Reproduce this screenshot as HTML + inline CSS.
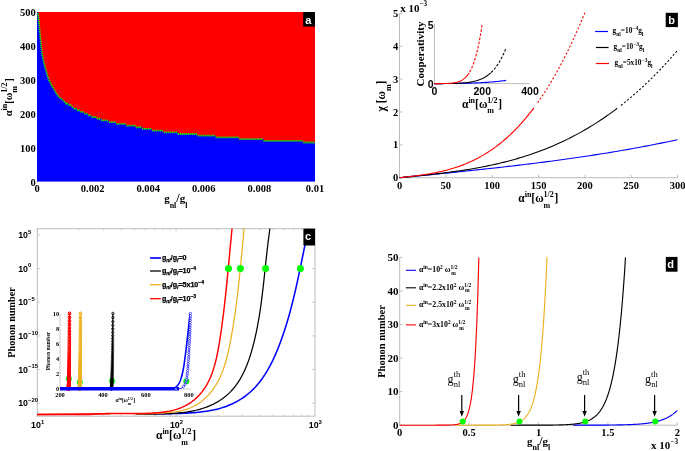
<!DOCTYPE html>
<html><head><meta charset="utf-8"><title>figure</title>
<style>html,body{margin:0;padding:0;background:#fff}svg{display:block}</style></head>
<body>
<svg width="685" height="451" viewBox="0 0 685 451">
<rect width="685" height="451" fill="#fff"/>
<rect x="37" y="12" width="278" height="169.6" fill="#0000ff"/>
<path d="M315 12 L37.9 12 L37.9 12.2 L37.94 12.65 L37.99 13.23 L38 13.34 L39 24.06 L40 34.02 L41 44.19 L42 52.7 L43 58.53 L44 63.14 L45 67.02 L46 70.61 L47 74.11 L48 77.28 L49 79.95 L50 82.24 L51 84.27 L52 86.13 L53 87.9 L54 89.6 L55 91.26 L56 92.84 L57 94.33 L58 95.7 L59 96.86 L60 97.76 L61 98.46 L62 98.46 L62 100.19 L64 100.19 L64 101.89 L66 101.89 L66 103.58 L69 103.58 L69 105.28 L71 105.28 L71 106.98 L74 106.98 L74 108.67 L77 108.67 L77 110.37 L80 110.37 L80 112.06 L84 112.06 L84 113.76 L88 113.76 L88 115.46 L92 115.46 L92 117.15 L96 117.15 L96 118.85 L102 118.85 L102 120.54 L109 120.54 L109 122.24 L116 122.24 L116 123.94 L126 123.94 L126 125.63 L135 125.63 L135 127.33 L143 127.33 L143 129.02 L152 129.02 L152 130.72 L163 130.72 L163 132.42 L178 132.42 L178 134.11 L197 134.11 L197 135.81 L216 135.81 L216 137.5 L239 137.5 L239 139.2 L264 139.2 L264 140.9 L303 140.9 L303 142.59 L315 142.59Z" fill="#ff0000"/>
<path d="M37.16 12.89h1.7v1.25h-1.7zM37.34 14.89h1.7v1.25h-1.7zM37.52 16.88h1.7v1.25h-1.7zM37.7 18.87h1.7v1.25h-1.7zM37.89 20.86h1.7v1.25h-1.7zM38.09 22.85h1.7v1.25h-1.7zM38.29 24.84h1.7v1.25h-1.7zM38.49 26.83h1.7v1.25h-1.7zM38.69 28.82h1.7v1.25h-1.7zM38.89 30.81h1.7v1.25h-1.7zM39.09 32.8h1.7v1.25h-1.7zM39.29 34.79h1.7v1.25h-1.7zM39.49 36.78h1.7v1.25h-1.7zM39.69 38.77h1.7v1.25h-1.7zM39.88 40.76h1.7v1.25h-1.7zM40.07 42.75h1.7v1.25h-1.7zM40.26 44.74h1.7v1.25h-1.7zM40.46 46.73h1.7v1.25h-1.7zM40.69 48.72h1.7v1.25h-1.7zM40.95 50.7h1.7v1.25h-1.7zM41.24 52.68h1.7v1.25h-1.7zM41.56 54.66h1.7v1.25h-1.7zM41.9 56.63h1.7v1.25h-1.7zM42.28 58.59h1.7v1.25h-1.7zM42.69 60.55h1.7v1.25h-1.7zM43.14 62.5h1.7v1.25h-1.7zM43.62 64.44h1.7v1.25h-1.7zM44.14 66.37h1.7v1.25h-1.7zM44.67 68.3h1.7v1.25h-1.7zM45.21 70.22h1.7v1.25h-1.7zM45.75 72.15h1.7v1.25h-1.7zM46.32 74.07h1.7v1.25h-1.7zM46.91 75.98h1.7v1.25h-1.7zM47.57 77.87h1.7v1.25h-1.7zM48.31 79.73h1.7v1.25h-1.7zM49.11 81.56h1.7v1.25h-1.7zM49.99 83.35h1.7v1.25h-1.7zM50.92 85.12h1.7v1.25h-1.7zM51.9 86.87h1.7v1.25h-1.7zM52.91 88.6h1.7v1.25h-1.7zM53.94 90.31h1.7v1.25h-1.7zM55 92h1.7v1.25h-1.7zM56.11 93.67h1.7v1.25h-1.7zM57.29 95.28h1.7v1.25h-1.7zM58.65 96.74h1.7v1.25h-1.7zM60.26 97.93h1.7v1.25h-1.7zM62.14 99.19h1.3v1.8h-1.3zM63.65 100.89h1.3v1.8h-1.3zM65.07 102.58h1.3v1.8h-1.3zM66.65 102.58h1.3v1.8h-1.3zM68.3 104.28h1.3v1.8h-1.3zM69.98 104.28h1.3v1.8h-1.3zM71.68 105.98h1.3v1.8h-1.3zM73.39 107.67h1.3v1.8h-1.3zM75.12 107.67h1.3v1.8h-1.3zM76.86 109.37h1.3v1.8h-1.3zM78.64 109.37h1.3v1.8h-1.3zM80.45 111.06h1.3v1.8h-1.3zM82.27 111.06h1.3v1.8h-1.3zM84.11 112.76h1.3v1.8h-1.3zM85.96 112.76h1.3v1.8h-1.3zM87.81 114.46h1.3v1.8h-1.3zM89.66 114.46h1.3v1.8h-1.3zM91.5 116.15h1.3v1.8h-1.3zM93.35 116.15h1.3v1.8h-1.3zM95.21 116.15h1.3v1.8h-1.3zM97.1 117.85h1.3v1.8h-1.3zM99 117.85h1.3v1.8h-1.3zM100.92 119.54h1.3v1.8h-1.3zM102.86 119.54h1.3v1.8h-1.3zM104.8 119.54h1.3v1.8h-1.3zM106.75 119.54h1.3v1.8h-1.3zM108.7 121.24h1.3v1.8h-1.3zM110.65 121.24h1.3v1.8h-1.3zM112.6 121.24h1.3v1.8h-1.3zM114.55 121.24h1.3v1.8h-1.3zM116.5 122.94h1.3v1.8h-1.3zM118.46 122.94h1.3v1.8h-1.3zM120.43 122.94h1.3v1.8h-1.3zM122.4 122.94h1.3v1.8h-1.3zM124.37 122.94h1.3v1.8h-1.3zM126.34 124.63h1.3v1.8h-1.3zM128.32 124.63h1.3v1.8h-1.3zM130.29 124.63h1.3v1.8h-1.3zM132.26 124.63h1.3v1.8h-1.3zM134.23 124.63h1.3v1.8h-1.3zM136.19 126.33h1.3v1.8h-1.3zM138.13 126.33h1.3v1.8h-1.3zM140.07 126.33h1.3v1.8h-1.3zM142.01 128.02h1.3v1.8h-1.3zM143.97 128.02h1.3v1.8h-1.3zM145.94 128.02h1.3v1.8h-1.3zM147.91 128.02h1.3v1.8h-1.3zM149.89 128.02h1.3v1.8h-1.3zM151.87 129.72h1.3v1.8h-1.3zM153.84 129.72h1.3v1.8h-1.3zM155.82 129.72h1.3v1.8h-1.3zM157.8 129.72h1.3v1.8h-1.3zM159.77 129.72h1.3v1.8h-1.3zM161.75 129.72h1.3v1.8h-1.3zM163.73 131.42h1.3v1.8h-1.3zM165.71 131.42h1.3v1.8h-1.3zM167.7 131.42h1.3v1.8h-1.3zM169.68 131.42h1.3v1.8h-1.3zM171.67 131.42h1.3v1.8h-1.3zM173.66 131.42h1.3v1.8h-1.3zM175.65 131.42h1.3v1.8h-1.3zM177.64 133.11h1.3v1.8h-1.3zM179.63 133.11h1.3v1.8h-1.3zM181.62 133.11h1.3v1.8h-1.3zM183.62 133.11h1.3v1.8h-1.3zM185.61 133.11h1.3v1.8h-1.3zM187.6 133.11h1.3v1.8h-1.3zM189.59 133.11h1.3v1.8h-1.3zM191.58 133.11h1.3v1.8h-1.3zM193.58 133.11h1.3v1.8h-1.3zM195.57 133.11h1.3v1.8h-1.3zM197.56 134.81h1.3v1.8h-1.3zM199.55 134.81h1.3v1.8h-1.3zM201.54 134.81h1.3v1.8h-1.3zM203.54 134.81h1.3v1.8h-1.3zM205.53 134.81h1.3v1.8h-1.3zM207.52 134.81h1.3v1.8h-1.3zM209.51 134.81h1.3v1.8h-1.3zM211.5 134.81h1.3v1.8h-1.3zM213.49 134.81h1.3v1.8h-1.3zM215.49 136.5h1.3v1.8h-1.3zM217.48 136.5h1.3v1.8h-1.3zM219.47 136.5h1.3v1.8h-1.3zM221.47 136.5h1.3v1.8h-1.3zM223.46 136.5h1.3v1.8h-1.3zM225.46 136.5h1.3v1.8h-1.3zM227.45 136.5h1.3v1.8h-1.3zM229.45 136.5h1.3v1.8h-1.3zM231.44 136.5h1.3v1.8h-1.3zM233.44 136.5h1.3v1.8h-1.3zM235.43 136.5h1.3v1.8h-1.3zM237.43 136.5h1.3v1.8h-1.3zM239.42 138.2h1.3v1.8h-1.3zM241.42 138.2h1.3v1.8h-1.3zM243.42 138.2h1.3v1.8h-1.3zM245.41 138.2h1.3v1.8h-1.3zM247.41 138.2h1.3v1.8h-1.3zM249.4 138.2h1.3v1.8h-1.3zM251.4 138.2h1.3v1.8h-1.3zM253.39 138.2h1.3v1.8h-1.3zM255.39 138.2h1.3v1.8h-1.3zM257.38 138.2h1.3v1.8h-1.3zM259.38 138.2h1.3v1.8h-1.3zM261.37 138.2h1.3v1.8h-1.3zM263.37 139.9h1.3v1.8h-1.3zM265.36 139.9h1.3v1.8h-1.3zM267.36 139.9h1.3v1.8h-1.3zM269.36 139.9h1.3v1.8h-1.3zM271.35 139.9h1.3v1.8h-1.3zM273.35 139.9h1.3v1.8h-1.3zM275.35 139.9h1.3v1.8h-1.3zM277.35 139.9h1.3v1.8h-1.3zM279.34 139.9h1.3v1.8h-1.3zM281.34 139.9h1.3v1.8h-1.3zM283.34 139.9h1.3v1.8h-1.3zM285.34 139.9h1.3v1.8h-1.3zM287.34 139.9h1.3v1.8h-1.3zM289.34 139.9h1.3v1.8h-1.3zM291.34 139.9h1.3v1.8h-1.3zM293.34 139.9h1.3v1.8h-1.3zM295.34 139.9h1.3v1.8h-1.3zM297.33 139.9h1.3v1.8h-1.3zM299.33 139.9h1.3v1.8h-1.3zM301.33 139.9h1.3v1.8h-1.3zM303.33 141.59h1.3v1.8h-1.3zM305.32 141.59h1.3v1.8h-1.3zM307.32 141.59h1.3v1.8h-1.3zM309.31 141.59h1.3v1.8h-1.3zM311.3 141.59h1.3v1.8h-1.3zM313.29 141.59h1.3v1.8h-1.3z" fill="#00f400"/>
<text x="35.8" y="185.5" font-family='"Liberation Serif", serif' font-size="10.5" font-weight="bold" text-anchor="end" fill="#000" >0</text>
<text x="35.8" y="151.58" font-family='"Liberation Serif", serif' font-size="10.5" font-weight="bold" text-anchor="end" fill="#000" >100</text>
<text x="35.8" y="117.66" font-family='"Liberation Serif", serif' font-size="10.5" font-weight="bold" text-anchor="end" fill="#000" >200</text>
<text x="35.8" y="83.74" font-family='"Liberation Serif", serif' font-size="10.5" font-weight="bold" text-anchor="end" fill="#000" >300</text>
<text x="35.8" y="49.82" font-family='"Liberation Serif", serif' font-size="10.5" font-weight="bold" text-anchor="end" fill="#000" >400</text>
<text x="35.8" y="15.9" font-family='"Liberation Serif", serif' font-size="10.5" font-weight="bold" text-anchor="end" fill="#000" >500</text>
<text x="37" y="192" font-family='"Liberation Serif", serif' font-size="10.5" font-weight="bold" text-anchor="middle" fill="#000" >0</text>
<text x="92.6" y="192" font-family='"Liberation Serif", serif' font-size="10.5" font-weight="bold" text-anchor="middle" fill="#000" >0.002</text>
<text x="148.2" y="192" font-family='"Liberation Serif", serif' font-size="10.5" font-weight="bold" text-anchor="middle" fill="#000" >0.004</text>
<text x="203.8" y="192" font-family='"Liberation Serif", serif' font-size="10.5" font-weight="bold" text-anchor="middle" fill="#000" >0.006</text>
<text x="259.4" y="192" font-family='"Liberation Serif", serif' font-size="10.5" font-weight="bold" text-anchor="middle" fill="#000" >0.008</text>
<text x="315" y="192" font-family='"Liberation Serif", serif' font-size="10.5" font-weight="bold" text-anchor="middle" fill="#000" >0.01</text>
<text x="175.8" y="202" font-family='"Liberation Serif", serif' font-size="11" font-weight="bold" text-anchor="middle" fill="#000" >g<tspan font-size="8" dy="5.6">nl</tspan><tspan dy="-5.6" font-size="12">/</tspan>g<tspan font-size="8" dy="5.6">l</tspan></text>
<text transform="translate(11.6 97.3) rotate(-90)" font-family='"Liberation Serif", serif' font-size="10.5" font-weight="bold" text-anchor="middle">α<tspan font-size="8" dy="-4.95">in</tspan><tspan dy="4.95">[ω</tspan><tspan font-size="8" dy="-4.95">1/2</tspan><tspan font-size="8" dy="10.45" dx="-10.4">m</tspan><tspan dy="-5.5" dx="4.4">]</tspan></text>
<rect x="303.2" y="12" width="11.8" height="14.6" fill="#000"/>
<text x="308.3" y="23.8" font-family='"Liberation Sans", sans-serif' font-size="11" font-weight="bold" text-anchor="middle" fill="#fff" >a</text>
<path d="M399.5 13.4 V177.7 H677.5" fill="none" stroke="#bcbcbc" stroke-width="1"/>
<path d="M399.5 177.7 h2.8 M399.5 144.84 h2.8 M399.5 111.98 h2.8 M399.5 79.12 h2.8 M399.5 46.26 h2.8 M399.5 13.4 h2.8 M399.5 177.7 v-2.8 M445.83 177.7 v-2.8 M492.17 177.7 v-2.8 M538.5 177.7 v-2.8 M584.83 177.7 v-2.8 M631.17 177.7 v-2.8 M677.5 177.7 v-2.8" stroke="#bcbcbc" stroke-width="1" fill="none"/>
<text x="398.3" y="181.3" font-family='"Liberation Serif", serif' font-size="10.5" font-weight="bold" text-anchor="end" fill="#000" >0</text>
<text x="398.3" y="148.44" font-family='"Liberation Serif", serif' font-size="10.5" font-weight="bold" text-anchor="end" fill="#000" >1</text>
<text x="398.3" y="115.58" font-family='"Liberation Serif", serif' font-size="10.5" font-weight="bold" text-anchor="end" fill="#000" >2</text>
<text x="398.3" y="82.72" font-family='"Liberation Serif", serif' font-size="10.5" font-weight="bold" text-anchor="end" fill="#000" >3</text>
<text x="398.3" y="49.86" font-family='"Liberation Serif", serif' font-size="10.5" font-weight="bold" text-anchor="end" fill="#000" >4</text>
<text x="398.3" y="17" font-family='"Liberation Serif", serif' font-size="10.5" font-weight="bold" text-anchor="end" fill="#000" >5</text>
<text x="399.5" y="189" font-family='"Liberation Serif", serif' font-size="10.5" font-weight="bold" text-anchor="middle" fill="#000" >0</text>
<text x="445.83" y="189" font-family='"Liberation Serif", serif' font-size="10.5" font-weight="bold" text-anchor="middle" fill="#000" >50</text>
<text x="492.17" y="189" font-family='"Liberation Serif", serif' font-size="10.5" font-weight="bold" text-anchor="middle" fill="#000" >100</text>
<text x="538.5" y="189" font-family='"Liberation Serif", serif' font-size="10.5" font-weight="bold" text-anchor="middle" fill="#000" >150</text>
<text x="584.83" y="189" font-family='"Liberation Serif", serif' font-size="10.5" font-weight="bold" text-anchor="middle" fill="#000" >200</text>
<text x="631.17" y="189" font-family='"Liberation Serif", serif' font-size="10.5" font-weight="bold" text-anchor="middle" fill="#000" >250</text>
<text x="677.5" y="189" font-family='"Liberation Serif", serif' font-size="10.5" font-weight="bold" text-anchor="middle" fill="#000" >300</text>
<text x="400.2" y="11.7" font-family='"Liberation Serif", serif' font-size="11" font-weight="bold" text-anchor="start" fill="#000" >x 10<tspan font-size="7.3" dy="-5.8">−3</tspan></text>
<text x="538.3" y="202.2" font-family='"Liberation Serif", serif' font-size="11.5" font-weight="bold" text-anchor="middle" fill="#000" >α<tspan font-size="8" dy="-4.95">in</tspan><tspan dy="4.95">[ω</tspan><tspan font-size="8" dy="-4.95">1/2</tspan><tspan font-size="8" dy="10.45" dx="-10.4">m</tspan><tspan dy="-5.5" dx="4.4">]</tspan></text>
<text transform="translate(385.2 96) rotate(-90)" font-family='"Liberation Serif", serif' font-size="11.5" font-weight="bold" text-anchor="middle">χ [ω<tspan font-size="8" dy="5.5">m</tspan><tspan dy="-5.5">]</tspan></text>
<path d="M399.5 177.7 L403.02 177.36 L406.54 177.01 L410.06 176.67 L413.58 176.33 L417.09 175.98 L420.61 175.64 L424.13 175.29 L427.65 174.94 L431.17 174.6 L434.69 174.25 L438.21 173.9 L441.73 173.54 L445.25 173.19 L448.77 172.84 L452.28 172.48 L455.8 172.12 L459.32 171.76 L462.84 171.39 L466.36 171.03 L469.88 170.66 L473.4 170.29 L476.92 169.92 L480.44 169.54 L483.96 169.16 L487.47 168.78 L490.99 168.39 L494.51 168 L498.03 167.61 L501.55 167.21 L505.07 166.81 L508.59 166.41 L512.11 166 L515.63 165.58 L519.15 165.17 L522.66 164.74 L526.18 164.32 L529.7 163.89 L533.22 163.45 L536.74 163.01 L540.26 162.56 L543.78 162.11 L547.3 161.65 L550.82 161.19 L554.34 160.72 L557.85 160.25 L561.37 159.77 L564.89 159.28 L568.41 158.79 L571.93 158.29 L575.45 157.79 L578.97 157.27 L582.49 156.76 L586.01 156.23 L589.53 155.7 L593.04 155.16 L596.56 154.61 L600.08 154.06 L603.6 153.5 L607.12 152.93 L610.64 152.35 L614.16 151.76 L617.68 151.17 L621.2 150.57 L624.72 149.96 L628.23 149.34 L631.75 148.71 L635.27 148.08 L638.79 147.43 L642.31 146.78 L645.83 146.12 L649.35 145.45 L652.87 144.76 L656.39 144.07 L659.91 143.37 L663.42 142.66 L666.94 141.94 L670.46 141.21 L673.98 140.47 L677.5 139.72" fill="none" stroke="#0000ff" stroke-width="1.1"/>
<path d="M399.5 177.7 L402.26 177.43 L405.01 177.16 L407.77 176.89 L410.53 176.62 L413.28 176.34 L416.04 176.07 L418.8 175.78 L421.55 175.5 L424.31 175.21 L427.07 174.91 L429.82 174.61 L432.58 174.31 L435.34 173.99 L438.09 173.67 L440.85 173.34 L443.6 173 L446.36 172.65 L449.12 172.29 L451.87 171.92 L454.63 171.54 L457.39 171.15 L460.14 170.75 L462.9 170.33 L465.66 169.9 L468.41 169.45 L471.17 168.99 L473.93 168.52 L476.68 168.03 L479.44 167.52 L482.2 167 L484.95 166.46 L487.71 165.9 L490.47 165.32 L493.22 164.72 L495.98 164.1 L498.74 163.46 L501.49 162.8 L504.25 162.12 L507.01 161.42 L509.76 160.69 L512.52 159.94 L515.27 159.17 L518.03 158.37 L520.79 157.55 L523.54 156.7 L526.3 155.82 L529.06 154.92 L531.81 153.99 L534.57 153.03 L537.33 152.04 L540.08 151.03 L542.84 149.98 L545.6 148.9 L548.35 147.79 L551.11 146.65 L553.87 145.48 L556.62 144.28 L559.38 143.04 L562.14 141.77 L564.89 140.46 L567.65 139.12 L570.41 137.74 L573.16 136.33 L575.92 134.87 L578.68 133.39 L581.43 131.86 L584.19 130.29 L586.94 128.69 L589.7 127.04 L592.46 125.36 L595.21 123.63 L597.97 121.86 L600.73 120.05 L603.48 118.2 L606.24 116.31 L609 114.37 L611.75 112.38 L614.51 110.35 L617.27 108.28" fill="none" stroke="#000000" stroke-width="1.1"/>
<path d="M620.97 105.41 L622.42 104.27 L623.87 103.11 L625.32 101.94 L626.77 100.76 L628.22 99.56 L629.67 98.35 L631.12 97.13 L632.57 95.89 L634.02 94.64 L635.47 93.38 L636.92 92.1 L638.37 90.81 L639.82 89.5 L641.26 88.18 L642.71 86.85 L644.16 85.5 L645.61 84.14 L647.06 82.76 L648.51 81.37 L649.96 79.96 L651.41 78.54 L652.86 77.1 L654.31 75.65 L655.76 74.18 L657.21 72.7 L658.66 71.21 L660.11 69.7 L661.56 68.17 L663.01 66.63 L664.46 65.07 L665.9 63.49 L667.35 61.91 L668.8 60.3 L670.25 58.68 L671.7 57.04 L673.15 55.39 L674.6 53.72 L676.05 52.04 L677.5 50.33" fill="none" stroke="#000000" stroke-width="1.1" stroke-dasharray="2 2"/>
<path d="M399.5 177.7 L401.2 177.51 L402.9 177.33 L404.6 177.14 L406.3 176.94 L408 176.75 L409.71 176.55 L411.41 176.35 L413.11 176.15 L414.81 175.94 L416.51 175.72 L418.21 175.49 L419.91 175.26 L421.61 175.02 L423.31 174.78 L425.01 174.52 L426.71 174.25 L428.41 173.97 L430.12 173.68 L431.82 173.38 L433.52 173.07 L435.22 172.74 L436.92 172.4 L438.62 172.04 L440.32 171.67 L442.02 171.28 L443.72 170.87 L445.42 170.45 L447.12 170.01 L448.82 169.55 L450.53 169.07 L452.23 168.57 L453.93 168.06 L455.63 167.51 L457.33 166.95 L459.03 166.36 L460.73 165.76 L462.43 165.12 L464.13 164.46 L465.83 163.78 L467.53 163.07 L469.23 162.33 L470.94 161.57 L472.64 160.78 L474.34 159.95 L476.04 159.1 L477.74 158.22 L479.44 157.31 L481.14 156.37 L482.84 155.39 L484.54 154.38 L486.24 153.34 L487.94 152.26 L489.64 151.15 L491.35 150.01 L493.05 148.82 L494.75 147.6 L496.45 146.35 L498.15 145.05 L499.85 143.72 L501.55 142.34 L503.25 140.93 L504.95 139.47 L506.65 137.98 L508.35 136.44 L510.05 134.86 L511.76 133.23 L513.46 131.56 L515.16 129.85 L516.86 128.09 L518.56 126.28 L520.26 124.43 L521.96 122.53 L523.66 120.58 L525.36 118.58 L527.06 116.53 L528.76 114.43 L530.46 112.29 L532.17 110.08 L533.87 107.83" fill="none" stroke="#ff0000" stroke-width="1.1"/>
<path d="M537.57 102.74 L538.79 101.02 L540 99.27 L541.21 97.49 L542.42 95.68 L543.63 93.85 L544.84 91.99 L546.06 90.1 L547.27 88.17 L548.48 86.22 L549.69 84.24 L550.9 82.23 L552.11 80.19 L553.33 78.12 L554.54 76.02 L555.75 73.88 L556.96 71.72 L558.17 69.52 L559.39 67.29 L560.6 65.03 L561.81 62.74 L563.02 60.42 L564.23 58.06 L565.44 55.67 L566.66 53.25 L567.87 50.79 L569.08 48.3 L570.29 45.77 L571.5 43.21 L572.72 40.62 L573.93 37.99 L575.14 35.33 L576.35 32.63 L577.56 29.9 L578.77 27.13 L579.99 24.33 L581.2 21.48 L582.41 18.61 L583.62 15.69 L584.83 12.74" fill="none" stroke="#ff0000" stroke-width="1.1" stroke-dasharray="2 2"/>
<path d="M434.5 24 V83.6 H530" fill="none" stroke="#bcbcbc" stroke-width="1"/>
<path d="M434.5 83.6 L435.71 83.6 L436.93 83.6 L438.14 83.6 L439.36 83.59 L440.57 83.59 L441.78 83.58 L443 83.58 L444.21 83.57 L445.43 83.56 L446.64 83.55 L447.85 83.54 L449.07 83.53 L450.28 83.52 L451.5 83.5 L452.71 83.49 L453.92 83.47 L455.14 83.46 L456.35 83.44 L457.57 83.42 L458.78 83.4 L459.99 83.37 L461.21 83.35 L462.42 83.32 L463.64 83.29 L464.85 83.27 L466.06 83.23 L467.28 83.2 L468.49 83.17 L469.71 83.13 L470.92 83.09 L472.13 83.05 L473.35 83 L474.56 82.96 L475.78 82.91 L476.99 82.86 L478.2 82.8 L479.42 82.74 L480.63 82.68 L481.85 82.62 L483.06 82.55 L484.27 82.48 L485.49 82.41 L486.7 82.33 L487.92 82.25 L489.13 82.16 L490.34 82.07 L491.56 81.98 L492.77 81.88 L493.99 81.78 L495.2 81.67 L496.41 81.55 L497.63 81.43 L498.84 81.31 L500.06 81.17 L501.27 81.04 L502.48 80.89 L503.7 80.74 L504.91 80.58 L506.12 80.42" fill="none" stroke="#0000ff" stroke-width="1.1"/>
<path d="M434.5 83.6 L435.45 83.6 L436.4 83.6 L437.35 83.6 L438.3 83.6 L439.25 83.59 L440.21 83.59 L441.16 83.59 L442.11 83.58 L443.06 83.57 L444.01 83.57 L444.96 83.56 L445.91 83.55 L446.86 83.54 L447.81 83.53 L448.76 83.52 L449.72 83.5 L450.67 83.48 L451.62 83.46 L452.57 83.44 L453.52 83.42 L454.47 83.39 L455.42 83.36 L456.37 83.33 L457.32 83.29 L458.27 83.25 L459.22 83.2 L460.18 83.15 L461.13 83.09 L462.08 83.02 L463.03 82.95 L463.98 82.87 L464.93 82.79 L465.88 82.69 L466.83 82.58 L467.78 82.47 L468.73 82.34 L469.69 82.2 L470.64 82.04 L471.59 81.87 L472.54 81.69 L473.49 81.49 L474.44 81.27 L475.39 81.03 L476.34 80.77 L477.29 80.48 L478.24 80.17 L479.19 79.84 L480.15 79.47 L481.1 79.08 L482.05 78.65 L483 78.19 L483.95 77.7 L484.9 77.16 L485.85 76.58 L486.8 75.96 L487.75 75.29 L488.7 74.57 L489.66 73.79 L490.61 72.96" fill="none" stroke="#000000" stroke-width="1.1"/>
<path d="M491.08 72.52 L491.6 72.02 L492.12 71.51 L492.64 70.97 L493.16 70.42 L493.68 69.84 L494.2 69.24 L494.71 68.62 L495.23 67.98 L495.75 67.31 L496.27 66.62 L496.79 65.91 L497.31 65.17 L497.83 64.4 L498.35 63.6 L498.86 62.78 L499.38 61.93 L499.9 61.04 L500.42 60.13 L500.94 59.18 L501.46 58.21 L501.98 57.19 L502.49 56.15 L503.01 55.07 L503.53 53.95 L504.05 52.8 L504.57 51.6 L505.09 50.37 L505.61 49.1 L506.12 47.78" fill="none" stroke="#000000" stroke-width="1.1" stroke-dasharray="2.6 1.6"/>
<path d="M434.5 83.6 L435.09 83.6 L435.67 83.6 L436.26 83.6 L436.85 83.6 L437.43 83.6 L438.02 83.59 L438.61 83.59 L439.19 83.59 L439.78 83.59 L440.37 83.58 L440.95 83.58 L441.54 83.57 L442.13 83.57 L442.71 83.56 L443.3 83.55 L443.89 83.54 L444.47 83.53 L445.06 83.52 L445.65 83.5 L446.24 83.49 L446.82 83.47 L447.41 83.45 L448 83.42 L448.58 83.39 L449.17 83.36 L449.76 83.32 L450.34 83.28 L450.93 83.23 L451.52 83.18 L452.1 83.12 L452.69 83.05 L453.28 82.98 L453.86 82.89 L454.45 82.8 L455.04 82.69 L455.62 82.58 L456.21 82.45 L456.8 82.3 L457.38 82.14 L457.97 81.97 L458.56 81.77 L459.14 81.56 L459.73 81.33 L460.32 81.07 L460.9 80.78 L461.49 80.47 L462.08 80.13 L462.66 79.76 L463.25 79.36 L463.84 78.92 L464.42 78.44 L465.01 77.92 L465.6 77.35 L466.18 76.73 L466.77 76.07 L467.36 75.35 L467.95 74.57 L468.53 73.73 L469.12 72.82" fill="none" stroke="#ff0000" stroke-width="1.1"/>
<path d="M469.6 72.03 L470.03 71.27 L470.47 70.46 L470.91 69.61 L471.34 68.71 L471.78 67.76 L472.21 66.76 L472.65 65.71 L473.09 64.6 L473.52 63.44 L473.96 62.21 L474.4 60.92 L474.83 59.57 L475.27 58.14 L475.7 56.65 L476.14 55.08 L476.58 53.43 L477.01 51.71 L477.45 49.9 L477.89 48.01 L478.32 46.02 L478.76 43.94 L479.2 41.77 L479.63 39.49 L480.07 37.12 L480.5 34.63 L480.94 32.03 L481.38 29.32 L481.81 26.48 L482.25 23.52" fill="none" stroke="#ff0000" stroke-width="1.1" stroke-dasharray="2.6 1.6"/>
<text x="433.5" y="29.3" font-family='"Liberation Sans", sans-serif' font-size="10.5" font-weight="bold" text-anchor="end" fill="#000" >5</text>
<text x="433.5" y="87.6" font-family='"Liberation Sans", sans-serif' font-size="10.5" font-weight="bold" text-anchor="end" fill="#000" >0</text>
<text x="434.5" y="95.3" font-family='"Liberation Sans", sans-serif' font-size="10.5" font-weight="bold" text-anchor="middle" fill="#000" >0</text>
<text x="482.25" y="95.3" font-family='"Liberation Sans", sans-serif' font-size="10.5" font-weight="bold" text-anchor="middle" fill="#000" >200</text>
<text x="530" y="95.3" font-family='"Liberation Sans", sans-serif' font-size="10.5" font-weight="bold" text-anchor="middle" fill="#000" >400</text>
<text transform="translate(424.2 54) rotate(-90)" font-family='"Liberation Serif", serif' font-size="11" font-weight="bold" text-anchor="middle">Cooperativity</text>
<text x="482" y="107.9" font-family='"Liberation Serif", serif' font-size="11.5" font-weight="bold" text-anchor="middle" fill="#000" >α<tspan font-size="8" dy="-4.95">in</tspan><tspan dy="4.95">[ω</tspan><tspan font-size="8" dy="-4.95">1/2</tspan><tspan font-size="8" dy="10.45" dx="-10.4">m</tspan><tspan dy="-5.5" dx="4.4">]</tspan></text>
<path d="M595.1 31.5 H608" stroke="#0000ff" stroke-width="1.2"/>
<text x="612.6" y="33.1" font-family='"Liberation Serif", serif' font-size="7.3" font-weight="bold" text-anchor="start" fill="#000" >g<tspan font-size="5.5" dy="3">nl</tspan><tspan dy="-3">=</tspan>10<tspan font-size="5.5" dy="-3.2">−4</tspan><tspan dy="3.2">g</tspan><tspan font-size="5.5" dy="3">l</tspan></text>
<path d="M595.9 47.5 H608.6" stroke="#000000" stroke-width="1.2"/>
<text x="613.5" y="49.1" font-family='"Liberation Serif", serif' font-size="7.3" font-weight="bold" text-anchor="start" fill="#000" >g<tspan font-size="5.5" dy="3">nl</tspan><tspan dy="-3">=</tspan>10<tspan font-size="5.5" dy="-3.2">−3</tspan><tspan dy="3.2">g</tspan><tspan font-size="5.5" dy="3">l</tspan></text>
<path d="M595.9 63.5 H609" stroke="#ff0000" stroke-width="1.2"/>
<text x="614.5" y="65.1" font-family='"Liberation Serif", serif' font-size="7.3" font-weight="bold" text-anchor="start" fill="#000" >g<tspan font-size="5.5" dy="3">nl</tspan><tspan dy="-3">=</tspan>5x10<tspan font-size="5.5" dy="-3.2">−3</tspan><tspan dy="3.2">g</tspan><tspan font-size="5.5" dy="3">l</tspan></text>
<rect x="665.7" y="12.8" width="12.2" height="14.3" fill="#000"/>
<text x="671.6" y="24.3" font-family='"Liberation Sans", sans-serif' font-size="11" font-weight="bold" text-anchor="middle" fill="#fff" >b</text>
<rect x="37.3" y="228.7" width="277.7" height="187.5" fill="none" stroke="#bcbcbc" stroke-width="1"/>
<path d="M37.3 416.2 v-2.8 M37.3 228.7 v2.8 M79.1 416.2 v-1.5 M79.1 228.7 v1.5 M103.55 416.2 v-1.5 M103.55 228.7 v1.5 M120.9 416.2 v-1.5 M120.9 228.7 v1.5 M134.35 416.2 v-1.5 M134.35 228.7 v1.5 M145.35 416.2 v-1.5 M145.35 228.7 v1.5 M154.64 416.2 v-1.5 M154.64 228.7 v1.5 M162.69 416.2 v-1.5 M162.69 228.7 v1.5 M169.8 416.2 v-1.5 M169.8 228.7 v1.5 M176.15 416.2 v-2.8 M176.15 228.7 v2.8 M217.95 416.2 v-1.5 M217.95 228.7 v1.5 M242.4 416.2 v-1.5 M242.4 228.7 v1.5 M259.75 416.2 v-1.5 M259.75 228.7 v1.5 M273.2 416.2 v-1.5 M273.2 228.7 v1.5 M284.2 416.2 v-1.5 M284.2 228.7 v1.5 M293.49 416.2 v-1.5 M293.49 228.7 v1.5 M301.54 416.2 v-1.5 M301.54 228.7 v1.5 M308.65 416.2 v-1.5 M308.65 228.7 v1.5 M37.3 403.25 h2.8 M315 403.25 h-2.8 M37.3 369.59 h2.8 M315 369.59 h-2.8 M37.3 335.93 h2.8 M315 335.93 h-2.8 M37.3 302.26 h2.8 M315 302.26 h-2.8 M37.3 268.6 h2.8 M315 268.6 h-2.8 M37.3 234.94 h2.8 M315 234.94 h-2.8" stroke="#bcbcbc" stroke-width="0.8" fill="none"/>
<text x="18.2" y="406.25" font-family='"Liberation Sans", sans-serif' font-size="8.8" font-weight="bold" text-anchor="start" fill="#000" >10<tspan font-size="5.9" dy="-4.2">−20</tspan></text>
<text x="18.2" y="372.59" font-family='"Liberation Sans", sans-serif' font-size="8.8" font-weight="bold" text-anchor="start" fill="#000" >10<tspan font-size="5.9" dy="-4.2">−15</tspan></text>
<text x="18.2" y="338.93" font-family='"Liberation Sans", sans-serif' font-size="8.8" font-weight="bold" text-anchor="start" fill="#000" >10<tspan font-size="5.9" dy="-4.2">−10</tspan></text>
<text x="18.2" y="305.26" font-family='"Liberation Sans", sans-serif' font-size="8.8" font-weight="bold" text-anchor="start" fill="#000" >10<tspan font-size="5.9" dy="-4.2">−5</tspan></text>
<text x="18.2" y="271.6" font-family='"Liberation Sans", sans-serif' font-size="8.8" font-weight="bold" text-anchor="start" fill="#000" >10<tspan font-size="5.9" dy="-4.2">0</tspan></text>
<text x="18.2" y="237.94" font-family='"Liberation Sans", sans-serif' font-size="8.8" font-weight="bold" text-anchor="start" fill="#000" >10<tspan font-size="5.9" dy="-4.2">5</tspan></text>
<text x="31.1" y="427.9" font-family='"Liberation Sans", sans-serif' font-size="8.8" font-weight="bold" text-anchor="start" fill="#000" >10<tspan font-size="5.9" dy="-4.2">1</tspan></text>
<text x="169.95" y="427.9" font-family='"Liberation Sans", sans-serif' font-size="8.8" font-weight="bold" text-anchor="start" fill="#000" >10<tspan font-size="5.9" dy="-4.2">2</tspan></text>
<text x="308.8" y="427.9" font-family='"Liberation Sans", sans-serif' font-size="8.8" font-weight="bold" text-anchor="start" fill="#000" >10<tspan font-size="5.9" dy="-4.2">3</tspan></text>
<text x="176" y="439.3" font-family='"Liberation Serif", serif' font-size="11.5" font-weight="bold" text-anchor="middle" fill="#000" >α<tspan font-size="8" dy="-4.95">in</tspan><tspan dy="4.95">[ω</tspan><tspan font-size="8" dy="-4.95">1/2</tspan><tspan font-size="8" dy="10.45" dx="-10.4">m</tspan><tspan dy="-5.5" dx="4.4">]</tspan></text>
<text transform="translate(15 322.5) rotate(-90)" font-family='"Liberation Serif", serif' font-size="10.2" font-weight="bold" text-anchor="middle">Phonon number</text>
<path d="M135.62 414.06 L137.56 414.02 L139.49 413.98 L141.43 413.95 L143.37 413.92 L145.31 413.9 L147.25 413.87 L149.19 413.85 L151.13 413.83 L153.08 413.82 L155.02 413.8 L156.97 413.78 L158.92 413.77 L160.87 413.75 L162.83 413.73 L164.78 413.7 L166.74 413.68 L168.71 413.65 L170.67 413.61 L172.64 413.57 L174.61 413.53 L176.59 413.48 L178.57 413.42 L180.55 413.36 L182.54 413.29 L184.52 413.21 L186.52 413.11 L188.51 413.01 L190.5 412.89 L192.49 412.76 L194.48 412.61 L196.47 412.44 L198.45 412.25 L200.43 412.04 L202.4 411.81 L204.37 411.55 L206.33 411.26 L208.28 410.95 L210.22 410.61 L212.15 410.24 L214.07 409.84 L215.97 409.4 L217.87 408.93 L219.75 408.42 L221.62 407.87 L223.47 407.28 L225.3 406.65 L227.12 405.98 L228.91 405.27 L230.69 404.52 L232.45 403.72 L234.18 402.88 L235.89 402.01 L237.58 401.09 L239.23 400.12 L240.87 399.12 L242.47 398.08 L244.04 397 L245.58 395.87 L247.09 394.71 L248.57 393.51 L250.01 392.26 L251.42 390.98 L252.8 389.66 L254.14 388.31 L255.45 386.92 L256.72 385.49 L257.97 384.03 L259.19 382.54 L260.37 381.02 L261.53 379.47 L262.66 377.9 L263.76 376.29 L264.84 374.66 L265.88 373.01 L266.91 371.33 L267.9 369.64 L268.88 367.92 L269.82 366.18 L270.75 364.43 L271.65 362.66 L272.54 360.87 L273.4 359.07 L274.24 357.26 L275.06 355.43 L275.86 353.6 L276.65 351.75 L277.41 349.9 L278.16 348.04 L278.9 346.17 L279.61 344.3 L280.32 342.43 L281.01 340.56 L281.68 338.68 L282.34 336.81 L282.99 334.94 L283.63 333.06 L284.25 331.19 L284.86 329.31 L285.46 327.44 L286.05 325.56 L286.63 323.69 L287.2 321.81 L287.76 319.93 L288.31 318.06 L288.84 316.18 L289.37 314.3 L289.89 312.43 L290.4 310.55 L290.9 308.67 L291.4 306.79 L291.88 304.91 L292.36 303.03 L292.83 301.14 L293.3 299.26 L293.75 297.38 L294.21 295.49 L294.65 293.61 L295.09 291.72 L295.53 289.84 L295.95 287.95 L296.38 286.06 L296.8 284.17 L297.22 282.28 L297.63 280.38 L298.04 278.49 L298.44 276.6 L298.84 274.7 L299.24 272.8 L299.64 270.9 L300.04 269 L300.43 267.1 L300.83 265.2 L301.22 263.29 L301.61 261.38 L302 259.48 L302.39 257.57 L302.78 255.65 L303.17 253.74 L303.56 251.83 L303.96 249.91 L304.35 247.99 L304.75 246.07 L305.15 244.15 L305.55 242.22 L305.95 240.3 L306.36 238.37 L306.77 236.44 L307.18 234.51 L307.6 232.57 L308.02 230.63 L308.45 228.69" fill="none" stroke="#0000ff" stroke-width="1.55"/>
<path d="M135.94 413.97 L137.8 413.98 L139.66 413.99 L141.52 414.01 L143.39 414.02 L145.25 414.03 L147.12 414.04 L148.99 414.05 L150.86 414.05 L152.73 414.05 L154.61 414.04 L156.48 414.03 L158.35 414 L160.23 413.97 L162.11 413.93 L163.99 413.88 L165.86 413.81 L167.74 413.73 L169.62 413.64 L171.5 413.53 L173.39 413.41 L175.27 413.27 L177.15 413.11 L179.03 412.93 L180.91 412.74 L182.79 412.52 L184.67 412.27 L186.55 412.01 L188.42 411.72 L190.29 411.4 L192.15 411.05 L194 410.67 L195.84 410.26 L197.66 409.81 L199.48 409.34 L201.28 408.82 L203.06 408.27 L204.83 407.68 L206.58 407.05 L208.31 406.37 L210.02 405.66 L211.7 404.9 L213.36 404.1 L215 403.26 L216.6 402.38 L218.18 401.46 L219.73 400.49 L221.25 399.49 L222.74 398.44 L224.19 397.36 L225.61 396.23 L226.99 395.07 L228.33 393.86 L229.63 392.62 L230.89 391.33 L232.12 390.01 L233.3 388.65 L234.45 387.26 L235.56 385.83 L236.63 384.37 L237.67 382.88 L238.67 381.35 L239.64 379.8 L240.58 378.22 L241.49 376.62 L242.36 374.99 L243.21 373.33 L244.02 371.66 L244.81 369.96 L245.57 368.25 L246.3 366.51 L247.01 364.76 L247.69 362.99 L248.35 361.21 L248.99 359.41 L249.6 357.61 L250.2 355.79 L250.77 353.96 L251.32 352.13 L251.86 350.29 L252.37 348.44 L252.87 346.59 L253.35 344.74 L253.82 342.88 L254.28 341.03 L254.72 339.17 L255.14 337.32 L255.56 335.47 L255.96 333.63 L256.35 331.78 L256.73 329.94 L257.1 328.09 L257.45 326.25 L257.8 324.41 L258.14 322.57 L258.47 320.74 L258.78 318.9 L259.09 317.07 L259.39 315.23 L259.68 313.4 L259.97 311.57 L260.24 309.74 L260.51 307.91 L260.77 306.08 L261.03 304.25 L261.28 302.42 L261.52 300.59 L261.75 298.77 L261.99 296.94 L262.21 295.11 L262.43 293.28 L262.65 291.45 L262.87 289.63 L263.08 287.8 L263.28 285.97 L263.49 284.14 L263.69 282.31 L263.89 280.48 L264.08 278.65 L264.28 276.82 L264.47 274.99 L264.67 273.15 L264.86 271.32 L265.05 269.48 L265.25 267.65 L265.44 265.81 L265.64 263.97 L265.83 262.13 L266.03 260.29 L266.23 258.44 L266.43 256.6 L266.63 254.75 L266.84 252.9 L267.05 251.05 L267.26 249.19 L267.48 247.34 L267.7 245.48 L267.93 243.62 L268.16 241.76 L268.39 239.89 L268.64 238.03 L268.88 236.15 L269.14 234.28 L269.4 232.41 L269.67 230.53 L269.94 228.65" fill="none" stroke="#000000" stroke-width="1.25"/>
<path d="M135.88 413.95 L137.67 413.93 L139.46 413.9 L141.25 413.87 L143.04 413.84 L144.84 413.8 L146.63 413.76 L148.43 413.71 L150.22 413.65 L152.02 413.59 L153.83 413.52 L155.63 413.44 L157.43 413.35 L159.24 413.25 L161.05 413.14 L162.87 413.02 L164.68 412.89 L166.5 412.75 L168.32 412.59 L170.14 412.42 L171.96 412.22 L173.77 412 L175.58 411.75 L177.37 411.46 L179.16 411.14 L180.93 410.78 L182.68 410.37 L184.42 409.92 L186.14 409.41 L187.83 408.85 L189.51 408.24 L191.15 407.55 L192.77 406.81 L194.35 406 L195.91 405.14 L197.43 404.21 L198.93 403.23 L200.38 402.2 L201.81 401.13 L203.19 400 L204.54 398.83 L205.85 397.62 L207.12 396.37 L208.35 395.08 L209.54 393.76 L210.68 392.41 L211.79 391.03 L212.85 389.62 L213.86 388.18 L214.84 386.72 L215.79 385.23 L216.69 383.71 L217.56 382.17 L218.39 380.61 L219.19 379.03 L219.96 377.43 L220.69 375.81 L221.4 374.16 L222.07 372.51 L222.72 370.83 L223.34 369.14 L223.93 367.44 L224.5 365.72 L225.05 363.99 L225.58 362.24 L226.08 360.49 L226.56 358.73 L227.02 356.96 L227.47 355.18 L227.9 353.4 L228.31 351.61 L228.71 349.82 L229.1 348.02 L229.47 346.22 L229.84 344.43 L230.19 342.63 L230.54 340.83 L230.87 339.03 L231.2 337.24 L231.53 335.45 L231.85 333.66 L232.16 331.87 L232.46 330.09 L232.76 328.3 L233.05 326.52 L233.34 324.74 L233.62 322.97 L233.9 321.19 L234.17 319.42 L234.44 317.64 L234.7 315.87 L234.95 314.1 L235.21 312.33 L235.45 310.57 L235.69 308.8 L235.93 307.03 L236.16 305.27 L236.39 303.51 L236.62 301.74 L236.84 299.98 L237.06 298.21 L237.27 296.45 L237.48 294.69 L237.69 292.93 L237.9 291.16 L238.1 289.4 L238.3 287.64 L238.49 285.87 L238.68 284.11 L238.88 282.34 L239.06 280.58 L239.25 278.81 L239.43 277.04 L239.62 275.27 L239.8 273.5 L239.98 271.73 L240.15 269.96 L240.33 268.19 L240.51 266.41 L240.68 264.64 L240.85 262.86 L241.03 261.08 L241.2 259.29 L241.37 257.51 L241.54 255.72 L241.71 253.94 L241.88 252.14 L242.05 250.35 L242.22 248.55 L242.39 246.76 L242.56 244.95 L242.74 243.15 L242.91 241.34 L243.08 239.53 L243.26 237.72 L243.43 235.9 L243.61 234.08 L243.79 232.26 L243.97 230.43 L244.15 228.6" fill="none" stroke="#edb120" stroke-width="1.25"/>
<path d="M37.2 414.5 L90.04 414.44 L91.83 414.27 L93.61 414.13 L95.4 414 L97.19 413.89 L98.98 413.8 L100.77 413.72 L102.56 413.65 L104.35 413.6 L106.14 413.56 L107.93 413.53 L109.72 413.5 L111.52 413.49 L113.31 413.48 L115.11 413.48 L116.9 413.49 L118.7 413.5 L120.5 413.51 L122.3 413.52 L124.1 413.54 L125.89 413.55 L127.69 413.56 L129.49 413.58 L131.3 413.58 L133.1 413.59 L134.9 413.59 L136.7 413.58 L138.51 413.56 L140.31 413.54 L142.11 413.51 L143.92 413.46 L145.73 413.41 L147.53 413.34 L149.34 413.26 L151.15 413.16 L152.95 413.05 L154.76 412.92 L156.57 412.77 L158.38 412.6 L160.19 412.42 L162 412.21 L163.81 411.98 L165.61 411.72 L167.41 411.43 L169.2 411.11 L170.97 410.75 L172.74 410.35 L174.49 409.91 L176.22 409.42 L177.93 408.88 L179.62 408.3 L181.29 407.65 L182.93 406.95 L184.54 406.19 L186.12 405.37 L187.66 404.49 L189.18 403.56 L190.66 402.57 L192.1 401.53 L193.5 400.44 L194.87 399.3 L196.19 398.12 L197.48 396.9 L198.72 395.63 L199.91 394.33 L201.06 393 L202.16 391.63 L203.21 390.22 L204.22 388.79 L205.19 387.33 L206.11 385.84 L207 384.32 L207.84 382.78 L208.64 381.21 L209.41 379.62 L210.14 378 L210.84 376.37 L211.5 374.71 L212.14 373.03 L212.74 371.34 L213.31 369.63 L213.86 367.9 L214.38 366.16 L214.87 364.41 L215.34 362.65 L215.79 360.87 L216.22 359.08 L216.62 357.29 L217.01 355.49 L217.39 353.68 L217.74 351.87 L218.08 350.05 L218.41 348.23 L218.73 346.41 L219.04 344.59 L219.34 342.77 L219.63 340.95 L219.91 339.13 L220.19 337.32 L220.47 335.52 L220.74 333.71 L221 331.91 L221.26 330.11 L221.52 328.32 L221.77 326.53 L222.01 324.74 L222.26 322.96 L222.49 321.17 L222.73 319.4 L222.96 317.62 L223.18 315.84 L223.41 314.07 L223.62 312.3 L223.84 310.53 L224.05 308.76 L224.26 307 L224.47 305.23 L224.67 303.47 L224.87 301.7 L225.06 299.94 L225.26 298.18 L225.45 296.42 L225.64 294.66 L225.83 292.9 L226.01 291.14 L226.19 289.39 L226.38 287.63 L226.55 285.87 L226.73 284.11 L226.91 282.35 L227.08 280.59 L227.26 278.82 L227.43 277.06 L227.6 275.3 L227.77 273.53 L227.94 271.76 L228.11 270 L228.27 268.23 L228.44 266.46 L228.61 264.68 L228.77 262.91 L228.94 261.13 L229.11 259.35 L229.27 257.56 L229.44 255.78 L229.61 253.99 L229.77 252.2 L229.94 250.4 L230.11 248.6 L230.28 246.8 L230.45 245 L230.62 243.19 L230.79 241.38 L230.97 239.56 L231.14 237.74 L231.32 235.91 L231.5 234.08 L231.68 232.25 L231.86 230.41 L232.05 228.57" fill="none" stroke="#ff0000" stroke-width="1.45"/>
<path d="M37.3 414.4 L90 414.1 L110 413.8" fill="none" stroke="#ff0000" stroke-width="1.5"/>
<circle cx="228.5" cy="268.6" r="3.5" fill="#00ff00"/>
<circle cx="240.4" cy="268.6" r="3.5" fill="#00ff00"/>
<circle cx="265.6" cy="268.6" r="3.5" fill="#00ff00"/>
<circle cx="300.4" cy="268.6" r="3.5" fill="#00ff00"/>
<path d="M150.1 258 H160.9" stroke="#0000ff" stroke-width="1.7"/>
<text x="161.9" y="260" font-family='"Liberation Sans", sans-serif' font-size="7.1" font-weight="bold" text-anchor="start" fill="#000" stroke="#000" stroke-width="0.25">g<tspan font-size="5" dy="1.8" font-style="italic">nl</tspan><tspan dy="-1.8">/g</tspan><tspan font-size="5" dy="1.8" font-style="italic">l</tspan><tspan dy="-1.8">=0</tspan></text>
<path d="M150.1 271 H160.9" stroke="#000000" stroke-width="1.3"/>
<text x="161.9" y="273" font-family='"Liberation Sans", sans-serif' font-size="7.1" font-weight="bold" text-anchor="start" fill="#000" stroke="#000" stroke-width="0.25">g<tspan font-size="5" dy="1.8" font-style="italic">nl</tspan><tspan dy="-1.8">/g</tspan><tspan font-size="5" dy="1.8" font-style="italic">l</tspan><tspan dy="-1.8">=10<tspan font-size="5" dy="-3">−4</tspan></tspan></text>
<path d="M150.1 284.7 H160.9" stroke="#edb120" stroke-width="1.3"/>
<text x="161.9" y="286.7" font-family='"Liberation Sans", sans-serif' font-size="7.1" font-weight="bold" text-anchor="start" fill="#000" stroke="#000" stroke-width="0.25">g<tspan font-size="5" dy="1.8" font-style="italic">nl</tspan><tspan dy="-1.8">/g</tspan><tspan font-size="5" dy="1.8" font-style="italic">l</tspan><tspan dy="-1.8">=5x10<tspan font-size="5" dy="-3">−4</tspan></tspan></text>
<path d="M150.1 298.7 H160.9" stroke="#ff0000" stroke-width="1.3"/>
<text x="161.9" y="300.7" font-family='"Liberation Sans", sans-serif' font-size="7.1" font-weight="bold" text-anchor="start" fill="#000" stroke="#000" stroke-width="0.25">g<tspan font-size="5" dy="1.8" font-style="italic">nl</tspan><tspan dy="-1.8">/g</tspan><tspan font-size="5" dy="1.8" font-style="italic">l</tspan><tspan dy="-1.8">=10<tspan font-size="5" dy="-3">−3</tspan></tspan></text>
<rect x="303.4" y="228.7" width="11.6" height="16.8" fill="#000"/>
<text x="308.1" y="240.2" font-family='"Liberation Sans", sans-serif' font-size="11" font-weight="bold" text-anchor="middle" fill="#fff" >c</text>
<path d="M60 313.4 V389 H191" fill="none" stroke="#bcbcbc" stroke-width="0.8"/>
<text x="59.2" y="391.1" font-family='"Liberation Serif", serif' font-size="6.4" font-weight="bold" text-anchor="end" fill="#000" >0</text>
<text x="59.2" y="375.98" font-family='"Liberation Serif", serif' font-size="6.4" font-weight="bold" text-anchor="end" fill="#000" >2</text>
<text x="59.2" y="360.86" font-family='"Liberation Serif", serif' font-size="6.4" font-weight="bold" text-anchor="end" fill="#000" >4</text>
<text x="59.2" y="345.74" font-family='"Liberation Serif", serif' font-size="6.4" font-weight="bold" text-anchor="end" fill="#000" >6</text>
<text x="59.2" y="330.62" font-family='"Liberation Serif", serif' font-size="6.4" font-weight="bold" text-anchor="end" fill="#000" >8</text>
<text x="59.2" y="315.5" font-family='"Liberation Serif", serif' font-size="6.4" font-weight="bold" text-anchor="end" fill="#000" >10</text>
<text x="60" y="397.2" font-family='"Liberation Serif", serif' font-size="6.4" font-weight="bold" text-anchor="middle" fill="#000" >200</text>
<text x="102.94" y="397.2" font-family='"Liberation Serif", serif' font-size="6.4" font-weight="bold" text-anchor="middle" fill="#000" >400</text>
<text x="145.88" y="397.2" font-family='"Liberation Serif", serif' font-size="6.4" font-weight="bold" text-anchor="middle" fill="#000" >600</text>
<text x="188.82" y="397.2" font-family='"Liberation Serif", serif' font-size="6.4" font-weight="bold" text-anchor="middle" fill="#000" >800</text>
<text transform="translate(50.3 351) rotate(-90)" font-family='"Liberation Serif", serif' font-size="5.6" font-weight="bold" text-anchor="middle">Phonon number</text>
<text x="125.3" y="402.3" font-family='"Liberation Serif", serif' font-size="5.6" font-weight="bold" text-anchor="middle" fill="#000" >α<tspan font-size="4" dy="-2.52">in</tspan><tspan dy="2.52">[ω</tspan><tspan font-size="4" dy="-2.52">1/2</tspan><tspan font-size="4" dy="5.32" dx="-5.2">m</tspan><tspan dy="-2.8" dx="2.2">]</tspan></text>
<circle cx="68.8" cy="378.8" r="3" fill="#00ff00"/>
<circle cx="79.8" cy="382.2" r="3" fill="#00ff00"/>
<circle cx="112" cy="381" r="3" fill="#00ff00"/>
<circle cx="186.3" cy="381.2" r="3" fill="#00ff00"/>
<g fill="none" stroke="#ff0000" stroke-width="1.1"><circle cx="68.4" cy="389" r="1.35"/><circle cx="68.42" cy="388.8" r="1.35"/><circle cx="68.44" cy="388.58" r="1.35"/><circle cx="68.46" cy="388.36" r="1.35"/><circle cx="68.47" cy="388.12" r="1.35"/><circle cx="68.49" cy="387.87" r="1.35"/><circle cx="68.51" cy="387.61" r="1.35"/><circle cx="68.53" cy="387.34" r="1.35"/><circle cx="68.55" cy="387.05" r="1.35"/><circle cx="68.56" cy="386.75" r="1.35"/><circle cx="68.58" cy="386.43" r="1.35"/><circle cx="68.6" cy="386.1" r="1.35"/><circle cx="68.62" cy="385.74" r="1.35"/><circle cx="68.64" cy="385.37" r="1.35"/><circle cx="68.66" cy="384.98" r="1.35"/><circle cx="68.68" cy="384.58" r="1.35"/><circle cx="68.69" cy="384.15" r="1.35"/><circle cx="68.71" cy="383.69" r="1.35"/><circle cx="68.73" cy="383.22" r="1.35"/><circle cx="68.75" cy="382.72" r="1.35"/><circle cx="68.77" cy="382.19" r="1.35"/><circle cx="68.78" cy="381.64" r="1.35"/><circle cx="68.8" cy="381.06" r="1.35"/><circle cx="68.82" cy="380.45" r="1.35"/><circle cx="68.84" cy="379.81" r="1.35"/><circle cx="68.86" cy="379.14" r="1.35"/><circle cx="68.88" cy="378.43" r="1.35"/><circle cx="68.9" cy="377.68" r="1.35"/><circle cx="68.91" cy="376.9" r="1.35"/><circle cx="68.93" cy="376.07" r="1.35"/><circle cx="68.95" cy="375.21" r="1.35"/><circle cx="68.97" cy="374.3" r="1.35"/><circle cx="68.99" cy="373.34" r="1.35"/><circle cx="69" cy="372.34" r="1.35"/><circle cx="69.02" cy="371.28" r="1.35"/><circle cx="69.04" cy="370.17" r="1.35"/><circle cx="69.06" cy="369" r="1.35"/><circle cx="69.08" cy="367.77" r="1.35"/><circle cx="69.1" cy="366.48" r="1.35"/><circle cx="69.12" cy="365.12" r="1.35"/><circle cx="69.13" cy="363.69" r="1.35"/><circle cx="69.15" cy="362.19" r="1.35"/><circle cx="69.17" cy="360.61" r="1.35"/><circle cx="69.19" cy="358.96" r="1.35"/><circle cx="69.21" cy="357.21" r="1.35"/><circle cx="69.22" cy="355.38" r="1.35"/><circle cx="69.24" cy="353.45" r="1.35"/><circle cx="69.26" cy="351.43" r="1.35"/><circle cx="69.28" cy="349.3" r="1.35"/><circle cx="69.3" cy="347.06" r="1.35"/><circle cx="69.32" cy="344.7" r="1.35"/><circle cx="69.34" cy="342.23" r="1.35"/><circle cx="69.35" cy="339.63" r="1.35"/><circle cx="69.37" cy="336.9" r="1.35"/><circle cx="69.39" cy="334.02" r="1.35"/><circle cx="69.41" cy="331" r="1.35"/><circle cx="69.43" cy="327.82" r="1.35"/><circle cx="69.44" cy="324.48" r="1.35"/><circle cx="69.46" cy="320.97" r="1.35"/><circle cx="69.48" cy="317.28" r="1.35"/><circle cx="69.5" cy="313.4" r="1.35"/></g>
<path d="M68.4 389 L68.45 388.47 L68.49 387.87 L68.54 387.2 L68.58 386.43 L68.63 385.56 L68.68 384.58 L68.72 383.46 L68.77 382.19 L68.81 380.76 L68.86 379.14 L68.9 377.29 L68.95 375.21 L69 372.84 L69.04 370.17 L69.09 367.13 L69.13 363.69 L69.18 359.8 L69.22 355.38 L69.27 350.38 L69.32 344.7 L69.36 338.28 L69.41 331 L69.45 322.75 L69.5 313.4" fill="none" stroke="#ff0000" stroke-width="1.0"/>
<g fill="none" stroke="#edb120" stroke-width="1.1"><circle cx="79.5" cy="389" r="1.35"/><circle cx="79.52" cy="388.8" r="1.35"/><circle cx="79.53" cy="388.58" r="1.35"/><circle cx="79.55" cy="388.36" r="1.35"/><circle cx="79.57" cy="388.12" r="1.35"/><circle cx="79.58" cy="387.87" r="1.35"/><circle cx="79.6" cy="387.61" r="1.35"/><circle cx="79.62" cy="387.34" r="1.35"/><circle cx="79.63" cy="387.05" r="1.35"/><circle cx="79.65" cy="386.75" r="1.35"/><circle cx="79.67" cy="386.43" r="1.35"/><circle cx="79.68" cy="386.1" r="1.35"/><circle cx="79.7" cy="385.74" r="1.35"/><circle cx="79.72" cy="385.37" r="1.35"/><circle cx="79.73" cy="384.98" r="1.35"/><circle cx="79.75" cy="384.58" r="1.35"/><circle cx="79.77" cy="384.15" r="1.35"/><circle cx="79.78" cy="383.69" r="1.35"/><circle cx="79.8" cy="383.22" r="1.35"/><circle cx="79.82" cy="382.72" r="1.35"/><circle cx="79.83" cy="382.19" r="1.35"/><circle cx="79.85" cy="381.64" r="1.35"/><circle cx="79.87" cy="381.06" r="1.35"/><circle cx="79.88" cy="380.45" r="1.35"/><circle cx="79.9" cy="379.81" r="1.35"/><circle cx="79.92" cy="379.14" r="1.35"/><circle cx="79.93" cy="378.43" r="1.35"/><circle cx="79.95" cy="377.68" r="1.35"/><circle cx="79.97" cy="376.9" r="1.35"/><circle cx="79.98" cy="376.07" r="1.35"/><circle cx="80" cy="375.21" r="1.35"/><circle cx="80.02" cy="374.3" r="1.35"/><circle cx="80.03" cy="373.34" r="1.35"/><circle cx="80.05" cy="372.34" r="1.35"/><circle cx="80.07" cy="371.28" r="1.35"/><circle cx="80.08" cy="370.17" r="1.35"/><circle cx="80.1" cy="369" r="1.35"/><circle cx="80.12" cy="367.77" r="1.35"/><circle cx="80.13" cy="366.48" r="1.35"/><circle cx="80.15" cy="365.12" r="1.35"/><circle cx="80.17" cy="363.69" r="1.35"/><circle cx="80.18" cy="362.19" r="1.35"/><circle cx="80.2" cy="360.61" r="1.35"/><circle cx="80.22" cy="358.96" r="1.35"/><circle cx="80.23" cy="357.21" r="1.35"/><circle cx="80.25" cy="355.38" r="1.35"/><circle cx="80.27" cy="353.45" r="1.35"/><circle cx="80.28" cy="351.43" r="1.35"/><circle cx="80.3" cy="349.3" r="1.35"/><circle cx="80.32" cy="347.06" r="1.35"/><circle cx="80.33" cy="344.7" r="1.35"/><circle cx="80.35" cy="342.23" r="1.35"/><circle cx="80.37" cy="339.63" r="1.35"/><circle cx="80.38" cy="336.9" r="1.35"/><circle cx="80.4" cy="334.02" r="1.35"/><circle cx="80.42" cy="331" r="1.35"/><circle cx="80.43" cy="327.82" r="1.35"/><circle cx="80.45" cy="324.48" r="1.35"/><circle cx="80.47" cy="320.97" r="1.35"/><circle cx="80.48" cy="317.28" r="1.35"/><circle cx="80.5" cy="313.4" r="1.35"/></g>
<path d="M79.5 389 L79.54 388.47 L79.58 387.87 L79.62 387.2 L79.67 386.43 L79.71 385.56 L79.75 384.58 L79.79 383.46 L79.83 382.19 L79.88 380.76 L79.92 379.14 L79.96 377.29 L80 375.21 L80.04 372.84 L80.08 370.17 L80.12 367.13 L80.17 363.69 L80.21 359.8 L80.25 355.38 L80.29 350.38 L80.33 344.7 L80.38 338.28 L80.42 331 L80.46 322.75 L80.5 313.4" fill="none" stroke="#edb120" stroke-width="1.0"/>
<g fill="none" stroke="#000000" stroke-width="0.8"><circle cx="111.3" cy="389" r="1.2"/><circle cx="111.33" cy="388.78" r="1.2"/><circle cx="111.36" cy="388.54" r="1.2"/><circle cx="111.39" cy="388.3" r="1.2"/><circle cx="111.42" cy="388.03" r="1.2"/><circle cx="111.45" cy="387.76" r="1.2"/><circle cx="111.47" cy="387.47" r="1.2"/><circle cx="111.5" cy="387.16" r="1.2"/><circle cx="111.53" cy="386.83" r="1.2"/><circle cx="111.56" cy="386.49" r="1.2"/><circle cx="111.59" cy="386.13" r="1.2"/><circle cx="111.62" cy="385.74" r="1.2"/><circle cx="111.65" cy="385.34" r="1.2"/><circle cx="111.68" cy="384.91" r="1.2"/><circle cx="111.71" cy="384.46" r="1.2"/><circle cx="111.74" cy="383.98" r="1.2"/><circle cx="111.77" cy="383.48" r="1.2"/><circle cx="111.79" cy="382.95" r="1.2"/><circle cx="111.82" cy="382.39" r="1.2"/><circle cx="111.85" cy="381.79" r="1.2"/><circle cx="111.88" cy="381.17" r="1.2"/><circle cx="111.91" cy="380.51" r="1.2"/><circle cx="111.94" cy="379.81" r="1.2"/><circle cx="111.97" cy="379.07" r="1.2"/><circle cx="112" cy="378.29" r="1.2"/><circle cx="112.03" cy="377.47" r="1.2"/><circle cx="112.06" cy="376.6" r="1.2"/><circle cx="112.09" cy="375.69" r="1.2"/><circle cx="112.11" cy="374.72" r="1.2"/><circle cx="112.14" cy="373.7" r="1.2"/><circle cx="112.17" cy="372.62" r="1.2"/><circle cx="112.2" cy="371.47" r="1.2"/><circle cx="112.23" cy="370.27" r="1.2"/><circle cx="112.26" cy="369" r="1.2"/><circle cx="112.29" cy="367.65" r="1.2"/><circle cx="112.32" cy="366.24" r="1.2"/><circle cx="112.35" cy="364.74" r="1.2"/><circle cx="112.38" cy="363.16" r="1.2"/><circle cx="112.41" cy="361.48" r="1.2"/><circle cx="112.43" cy="359.72" r="1.2"/><circle cx="112.46" cy="357.86" r="1.2"/><circle cx="112.49" cy="355.89" r="1.2"/><circle cx="112.52" cy="353.81" r="1.2"/><circle cx="112.55" cy="351.61" r="1.2"/><circle cx="112.58" cy="349.3" r="1.2"/><circle cx="112.61" cy="346.85" r="1.2"/><circle cx="112.64" cy="344.26" r="1.2"/><circle cx="112.67" cy="341.53" r="1.2"/><circle cx="112.7" cy="338.65" r="1.2"/><circle cx="112.73" cy="335.61" r="1.2"/><circle cx="112.75" cy="332.39" r="1.2"/><circle cx="112.78" cy="329" r="1.2"/><circle cx="112.81" cy="325.41" r="1.2"/><circle cx="112.84" cy="321.62" r="1.2"/><circle cx="112.87" cy="317.62" r="1.2"/><circle cx="112.9" cy="313.4" r="1.2"/></g>
<path d="M111.3 389 L111.37 388.47 L111.43 387.87 L111.5 387.2 L111.57 386.43 L111.63 385.56 L111.7 384.58 L111.77 383.46 L111.83 382.19 L111.9 380.76 L111.97 379.14 L112.03 377.29 L112.1 375.21 L112.17 372.84 L112.23 370.17 L112.3 367.13 L112.37 363.69 L112.43 359.8 L112.5 355.38 L112.57 350.38 L112.63 344.7 L112.7 338.28 L112.77 331 L112.83 322.75 L112.9 313.4" fill="none" stroke="#000000" stroke-width="1.2"/>
<path d="M60 388.7 H179" stroke="#0000ff" stroke-width="3.4" fill="none"/>
<path d="M168 388.9 L168.39 388.87 L168.92 388.83 L169.55 388.79 L170.25 388.74 L170.98 388.68 L171.7 388.58 L172.39 388.46 L173 388.3 L173.55 388.12 L174.08 387.93 L174.6 387.72 L175.09 387.49 L175.58 387.21 L176.06 386.88 L176.53 386.48 L177 386 L177.46 385.47 L177.92 384.9 L178.37 384.28 L178.81 383.61 L179.25 382.85 L179.67 382.01 L180.09 381.06 L180.5 380 L180.9 378.83 L181.3 377.56 L181.68 376.2 L182.06 374.75 L182.43 373.2 L182.8 371.56 L183.15 369.83 L183.5 368 L183.84 366.05 L184.16 363.97 L184.48 361.78 L184.79 359.5 L185.1 357.16 L185.4 354.78 L185.7 352.39 L186 350 L186.3 347.57 L186.6 345.06 L186.9 342.5 L187.2 339.91 L187.49 337.34 L187.77 334.81 L188.04 332.35 L188.3 330 L188.55 327.65 L188.81 325.22 L189.06 322.8 L189.29 320.45 L189.51 318.26 L189.71 316.3 L189.87 314.66 L190 313.4" fill="none" stroke="#0000ff" stroke-width="1.6"/>
<path d="M176 388.9 L176.4 388.87 L176.95 388.83 L177.6 388.79 L178.31 388.74 L179.05 388.68 L179.77 388.58 L180.44 388.46 L181 388.3 L181.48 388.11 L181.91 387.91 L182.3 387.68 L182.67 387.43 L183.01 387.13 L183.35 386.8 L183.67 386.43 L184 386 L184.33 385.53 L184.65 385.03 L184.96 384.5 L185.26 383.92 L185.55 383.29 L185.82 382.59 L186.07 381.83 L186.3 381 L186.5 380.09 L186.68 379.1 L186.84 378.05 L186.98 376.94 L187.11 375.77 L187.24 374.55 L187.37 373.3 L187.5 372 L187.64 370.66 L187.77 369.28 L187.9 367.85 L188.03 366.38 L188.15 364.85 L188.27 363.28 L188.39 361.66 L188.5 360 L188.61 358.27 L188.72 356.46 L188.82 354.59 L188.92 352.69 L189.02 350.76 L189.11 348.82 L189.21 346.9 L189.3 345 L189.39 343.14 L189.49 341.29 L189.58 339.45 L189.67 337.6 L189.76 335.74 L189.84 333.86 L189.92 331.95 L190 330 L190.08 327.89 L190.15 325.57 L190.22 323.16 L190.29 320.76 L190.36 318.48 L190.41 316.42 L190.46 314.69 L190.5 313.4" fill="none" stroke="#0000ff" stroke-width="1"/>
<g fill="#fff" stroke="#0000ff" stroke-width="0.6"><circle cx="176" cy="388.9" r="1.1"/><circle cx="183.51" cy="386.61" r="1.1"/><circle cx="185.05" cy="384.32" r="1.1"/><circle cx="186" cy="382.04" r="1.1"/><circle cx="186.57" cy="379.75" r="1.1"/><circle cx="186.91" cy="377.46" r="1.1"/><circle cx="187.18" cy="375.17" r="1.1"/><circle cx="187.41" cy="372.88" r="1.1"/><circle cx="187.64" cy="370.6" r="1.1"/><circle cx="187.86" cy="368.31" r="1.1"/><circle cx="188.05" cy="366.02" r="1.1"/><circle cx="188.23" cy="363.73" r="1.1"/><circle cx="188.4" cy="361.45" r="1.1"/><circle cx="188.55" cy="359.16" r="1.1"/><circle cx="188.69" cy="356.87" r="1.1"/><circle cx="188.82" cy="354.58" r="1.1"/><circle cx="188.94" cy="352.29" r="1.1"/><circle cx="189.05" cy="350.01" r="1.1"/><circle cx="189.17" cy="347.72" r="1.1"/><circle cx="189.28" cy="345.43" r="1.1"/><circle cx="189.39" cy="343.14" r="1.1"/><circle cx="189.51" cy="340.85" r="1.1"/><circle cx="189.62" cy="338.57" r="1.1"/><circle cx="189.73" cy="336.28" r="1.1"/><circle cx="189.84" cy="333.99" r="1.1"/><circle cx="189.93" cy="331.7" r="1.1"/><circle cx="190.02" cy="329.42" r="1.1"/><circle cx="190.1" cy="327.13" r="1.1"/><circle cx="190.17" cy="324.84" r="1.1"/><circle cx="190.24" cy="322.55" r="1.1"/><circle cx="190.31" cy="320.26" r="1.1"/><circle cx="190.37" cy="317.98" r="1.1"/><circle cx="190.44" cy="315.69" r="1.1"/><circle cx="190.5" cy="313.4" r="1.1"/></g>
<path d="M399.7 257.4 V425.2 H677.3" fill="none" stroke="#bcbcbc" stroke-width="1"/>
<path d="M399.7 425.2 h2.8 M399.7 391.64 h2.8 M399.7 358.08 h2.8 M399.7 324.52 h2.8 M399.7 290.96 h2.8 M399.7 257.4 h2.8 M399.7 425.2 v-2.8 M469.1 425.2 v-2.8 M538.5 425.2 v-2.8 M607.9 425.2 v-2.8 M677.3 425.2 v-2.8" stroke="#bcbcbc" stroke-width="1" fill="none"/>
<text x="398.5" y="428.9" font-family='"Liberation Serif", serif' font-size="11" font-weight="bold" text-anchor="end" fill="#000" >0</text>
<text x="398.5" y="395.34" font-family='"Liberation Serif", serif' font-size="11" font-weight="bold" text-anchor="end" fill="#000" >10</text>
<text x="398.5" y="361.78" font-family='"Liberation Serif", serif' font-size="11" font-weight="bold" text-anchor="end" fill="#000" >20</text>
<text x="398.5" y="328.22" font-family='"Liberation Serif", serif' font-size="11" font-weight="bold" text-anchor="end" fill="#000" >30</text>
<text x="398.5" y="294.66" font-family='"Liberation Serif", serif' font-size="11" font-weight="bold" text-anchor="end" fill="#000" >40</text>
<text x="398.5" y="261.1" font-family='"Liberation Serif", serif' font-size="11" font-weight="bold" text-anchor="end" fill="#000" >50</text>
<text x="399.7" y="436.4" font-family='"Liberation Serif", serif' font-size="10.5" font-weight="bold" text-anchor="middle" fill="#000" >0</text>
<text x="469.1" y="436.4" font-family='"Liberation Serif", serif' font-size="10.5" font-weight="bold" text-anchor="middle" fill="#000" >0.5</text>
<text x="538.5" y="436.4" font-family='"Liberation Serif", serif' font-size="10.5" font-weight="bold" text-anchor="middle" fill="#000" >1</text>
<text x="607.9" y="436.4" font-family='"Liberation Serif", serif' font-size="10.5" font-weight="bold" text-anchor="middle" fill="#000" >1.5</text>
<text x="677.3" y="436.4" font-family='"Liberation Serif", serif' font-size="10.5" font-weight="bold" text-anchor="middle" fill="#000" >2</text>
<text x="651" y="449.4" font-family='"Liberation Serif", serif' font-size="11" font-weight="bold" text-anchor="start" fill="#000" >x 10<tspan font-size="7.3" dy="-5.8">−3</tspan></text>
<text x="538.7" y="444.7" font-family='"Liberation Serif", serif' font-size="11" font-weight="bold" text-anchor="middle" fill="#000" >g<tspan font-size="8" dy="5.6">nl</tspan><tspan dy="-5.6" font-size="12">/</tspan>g<tspan font-size="8" dy="5.6">l</tspan></text>
<text transform="translate(385.3 341.5) rotate(-90)" font-family='"Liberation Serif", serif' font-size="10.5" font-weight="bold" text-anchor="middle">Phonon number</text>
<path d="M573.2 425.19 L573.85 425.19 L574.51 425.19 L575.16 425.18 L575.82 425.18 L576.47 425.18 L577.13 425.18 L577.78 425.18 L578.44 425.18 L579.09 425.18 L579.75 425.18 L580.4 425.18 L581.06 425.18 L581.71 425.18 L582.37 425.18 L583.02 425.17 L583.68 425.17 L584.33 425.17 L584.98 425.17 L585.64 425.17 L586.29 425.17 L586.95 425.17 L587.6 425.16 L588.26 425.16 L588.91 425.16 L589.57 425.16 L590.22 425.16 L590.88 425.16 L591.53 425.15 L592.19 425.15 L592.84 425.15 L593.5 425.15 L594.15 425.15 L594.81 425.14 L595.46 425.14 L596.12 425.14 L596.77 425.13 L597.42 425.13 L598.08 425.13 L598.73 425.13 L599.39 425.12 L600.04 425.12 L600.7 425.12 L601.35 425.11 L602.01 425.11 L602.66 425.1 L603.32 425.1 L603.97 425.09 L604.63 425.09 L605.28 425.08 L605.94 425.08 L606.59 425.07 L607.25 425.07 L607.9 425.06 L608.55 425.06 L609.21 425.05 L609.86 425.04 L610.52 425.04 L611.17 425.03 L611.83 425.02 L612.48 425.01 L613.14 425 L613.79 425 L614.45 424.99 L615.1 424.98 L615.76 424.97 L616.41 424.96 L617.07 424.94 L617.72 424.93 L618.38 424.92 L619.03 424.91 L619.68 424.9 L620.34 424.88 L620.99 424.87 L621.65 424.85 L622.3 424.84 L622.96 424.82 L623.61 424.8 L624.27 424.79 L624.92 424.77 L625.58 424.75 L626.23 424.73 L626.89 424.71 L627.54 424.68 L628.2 424.66 L628.85 424.64 L629.51 424.61 L630.16 424.58 L630.82 424.56 L631.47 424.53 L632.12 424.5 L632.78 424.46 L633.43 424.43 L634.09 424.4 L634.74 424.36 L635.4 424.32 L636.05 424.28 L636.71 424.24 L637.36 424.2 L638.02 424.15 L638.67 424.11 L639.33 424.06 L639.98 424 L640.64 423.95 L641.29 423.89 L641.95 423.84 L642.6 423.77 L643.25 423.71 L643.91 423.64 L644.56 423.57 L645.22 423.5 L645.87 423.42 L646.53 423.34 L647.18 423.26 L647.84 423.17 L648.49 423.08 L649.15 422.98 L649.8 422.88 L650.46 422.78 L651.11 422.67 L651.77 422.55 L652.42 422.44 L653.08 422.31 L653.73 422.18 L654.38 422.04 L655.04 421.9 L655.69 421.75 L656.35 421.6 L657 421.44 L657.66 421.27 L658.31 421.09 L658.97 420.9 L659.62 420.71 L660.28 420.51 L660.93 420.3 L661.59 420.07 L662.24 419.84 L662.9 419.6 L663.55 419.35 L664.21 419.09 L664.86 418.81 L665.52 418.52 L666.17 418.22 L666.82 417.91 L667.48 417.58 L668.13 417.23 L668.79 416.87 L669.44 416.5 L670.1 416.11 L670.75 415.7 L671.41 415.27 L672.06 414.82 L672.72 414.35 L673.37 413.86 L674.03 413.35 L674.68 412.82 L675.34 412.26 L675.99 411.68 L676.65 411.07 L677.3 410.43" fill="none" stroke="#0000ff" stroke-width="1.15"/>
<path d="M510.74 425.2 L511.46 425.2 L512.18 425.2 L512.91 425.2 L513.63 425.2 L514.35 425.2 L515.07 425.2 L515.79 425.2 L516.51 425.2 L517.24 425.2 L517.96 425.2 L518.68 425.19 L519.4 425.19 L520.12 425.19 L520.84 425.19 L521.57 425.19 L522.29 425.19 L523.01 425.19 L523.73 425.19 L524.45 425.19 L525.17 425.19 L525.9 425.19 L526.62 425.19 L527.34 425.19 L528.06 425.19 L528.78 425.19 L529.51 425.19 L530.23 425.18 L530.95 425.18 L531.67 425.18 L532.39 425.18 L533.11 425.18 L533.84 425.18 L534.56 425.18 L535.28 425.17 L536 425.17 L536.72 425.17 L537.44 425.17 L538.17 425.17 L538.89 425.16 L539.61 425.16 L540.33 425.16 L541.05 425.15 L541.77 425.15 L542.5 425.15 L543.22 425.14 L543.94 425.14 L544.66 425.14 L545.38 425.13 L546.11 425.13 L546.83 425.12 L547.55 425.11 L548.27 425.11 L548.99 425.1 L549.71 425.09 L550.44 425.09 L551.16 425.08 L551.88 425.07 L552.6 425.06 L553.32 425.05 L554.04 425.04 L554.77 425.03 L555.49 425.01 L556.21 425 L556.93 424.99 L557.65 424.97 L558.37 424.95 L559.1 424.94 L559.82 424.92 L560.54 424.9 L561.26 424.88 L561.98 424.85 L562.71 424.83 L563.43 424.8 L564.15 424.77 L564.87 424.74 L565.59 424.71 L566.31 424.67 L567.04 424.63 L567.76 424.59 L568.48 424.54 L569.2 424.5 L569.92 424.45 L570.64 424.39 L571.37 424.33 L572.09 424.27 L572.81 424.2 L573.53 424.13 L574.25 424.05 L574.98 423.97 L575.7 423.88 L576.42 423.78 L577.14 423.68 L577.86 423.57 L578.58 423.45 L579.31 423.32 L580.03 423.19 L580.75 423.04 L581.47 422.88 L582.19 422.71 L582.91 422.53 L583.64 422.34 L584.36 422.13 L585.08 421.91 L585.8 421.67 L586.52 421.41 L587.24 421.14 L587.97 420.84 L588.69 420.52 L589.41 420.18 L590.13 419.82 L590.85 419.43 L591.58 419.01 L592.3 418.56 L593.02 418.07 L593.74 417.56 L594.46 417 L595.18 416.4 L595.91 415.76 L596.63 415.08 L597.35 414.34 L598.07 413.55 L598.79 412.7 L599.51 411.79 L600.24 410.82 L600.96 409.77 L601.68 408.65 L602.4 407.45 L603.12 406.16 L603.84 404.77 L604.57 403.29 L605.29 401.69 L606.01 399.99 L606.73 398.15 L607.45 396.18 L608.18 394.07 L608.9 391.81 L609.62 389.38 L610.34 386.78 L611.06 383.98 L611.78 380.99 L612.51 377.77 L613.23 374.32 L613.95 370.62 L614.67 366.65 L615.39 362.4 L616.11 357.83 L616.84 352.93 L617.56 347.68 L618.28 342.04 L619 335.99 L619.72 329.5 L620.44 322.54 L621.17 315.08 L621.89 307.07 L622.61 298.48 L623.33 289.26 L624.05 279.38 L624.78 268.78 L625.5 257.4" fill="none" stroke="#000000" stroke-width="1.15"/>
<path d="M455.22 425.2 L455.8 425.2 L456.37 425.2 L456.95 425.2 L457.53 425.2 L458.11 425.2 L458.68 425.2 L459.26 425.2 L459.84 425.2 L460.41 425.2 L460.99 425.2 L461.57 425.2 L462.15 425.2 L462.72 425.2 L463.3 425.2 L463.88 425.2 L464.45 425.2 L465.03 425.2 L465.61 425.2 L466.18 425.2 L466.76 425.2 L467.34 425.2 L467.92 425.2 L468.49 425.2 L469.07 425.2 L469.65 425.2 L470.22 425.2 L470.8 425.2 L471.38 425.2 L471.96 425.2 L472.53 425.2 L473.11 425.2 L473.69 425.2 L474.26 425.19 L474.84 425.19 L475.42 425.19 L476 425.19 L476.57 425.19 L477.15 425.19 L477.73 425.19 L478.3 425.19 L478.88 425.19 L479.46 425.19 L480.03 425.19 L480.61 425.19 L481.19 425.19 L481.77 425.18 L482.34 425.18 L482.92 425.18 L483.5 425.18 L484.07 425.18 L484.65 425.18 L485.23 425.17 L485.81 425.17 L486.38 425.17 L486.96 425.17 L487.54 425.16 L488.11 425.16 L488.69 425.16 L489.27 425.15 L489.85 425.15 L490.42 425.15 L491 425.14 L491.58 425.14 L492.15 425.13 L492.73 425.13 L493.31 425.12 L493.89 425.11 L494.46 425.1 L495.04 425.1 L495.62 425.09 L496.19 425.08 L496.77 425.07 L497.35 425.06 L497.92 425.04 L498.5 425.03 L499.08 425.02 L499.66 425 L500.23 424.98 L500.81 424.96 L501.39 424.94 L501.96 424.92 L502.54 424.9 L503.12 424.87 L503.7 424.85 L504.27 424.81 L504.85 424.78 L505.43 424.75 L506 424.71 L506.58 424.66 L507.16 424.62 L507.74 424.57 L508.31 424.52 L508.89 424.46 L509.47 424.39 L510.04 424.32 L510.62 424.25 L511.2 424.17 L511.77 424.08 L512.35 423.98 L512.93 423.88 L513.51 423.77 L514.08 423.64 L514.66 423.51 L515.24 423.37 L515.81 423.21 L516.39 423.04 L516.97 422.85 L517.55 422.65 L518.12 422.44 L518.7 422.2 L519.28 421.94 L519.85 421.66 L520.43 421.36 L521.01 421.03 L521.59 420.67 L522.16 420.29 L522.74 419.87 L523.32 419.41 L523.89 418.91 L524.47 418.38 L525.05 417.79 L525.63 417.16 L526.2 416.47 L526.78 415.72 L527.36 414.91 L527.93 414.03 L528.51 413.08 L529.09 412.04 L529.66 410.91 L530.24 409.69 L530.82 408.36 L531.4 406.92 L531.97 405.36 L532.55 403.66 L533.13 401.82 L533.7 399.82 L534.28 397.64 L534.86 395.29 L535.44 392.72 L536.01 389.95 L536.59 386.93 L537.17 383.65 L537.74 380.1 L538.32 376.24 L538.9 372.05 L539.48 367.5 L540.05 362.56 L540.63 357.2 L541.21 351.38 L541.78 345.06 L542.36 338.2 L542.94 330.76 L543.51 322.68 L544.09 313.9 L544.67 304.38 L545.25 294.04 L545.82 282.81 L546.4 270.63 L546.98 257.4" fill="none" stroke="#edb120" stroke-width="1.15"/>
<path d="M399.7 425.2 L400.2 425.2 L400.7 425.2 L401.19 425.2 L401.69 425.2 L402.19 425.2 L402.69 425.2 L403.18 425.2 L403.68 425.2 L404.18 425.2 L404.68 425.2 L405.17 425.2 L405.67 425.2 L406.17 425.2 L406.67 425.2 L407.16 425.2 L407.66 425.2 L408.16 425.2 L408.66 425.2 L409.16 425.2 L409.65 425.2 L410.15 425.2 L410.65 425.2 L411.15 425.2 L411.64 425.2 L412.14 425.2 L412.64 425.2 L413.14 425.2 L413.63 425.2 L414.13 425.2 L414.63 425.2 L415.13 425.2 L415.63 425.2 L416.12 425.2 L416.62 425.2 L417.12 425.2 L417.62 425.2 L418.11 425.2 L418.61 425.2 L419.11 425.2 L419.61 425.2 L420.1 425.2 L420.6 425.2 L421.1 425.2 L421.6 425.2 L422.09 425.2 L422.59 425.2 L423.09 425.2 L423.59 425.2 L424.09 425.2 L424.58 425.2 L425.08 425.2 L425.58 425.2 L426.08 425.2 L426.57 425.2 L427.07 425.2 L427.57 425.2 L428.07 425.2 L428.56 425.2 L429.06 425.2 L429.56 425.2 L430.06 425.2 L430.55 425.2 L431.05 425.2 L431.55 425.2 L432.05 425.2 L432.55 425.2 L433.04 425.2 L433.54 425.2 L434.04 425.2 L434.54 425.2 L435.03 425.2 L435.53 425.2 L436.03 425.19 L436.53 425.19 L437.02 425.19 L437.52 425.19 L438.02 425.19 L438.52 425.19 L439.01 425.19 L439.51 425.19 L440.01 425.19 L440.51 425.18 L441.01 425.18 L441.5 425.18 L442 425.18 L442.5 425.18 L443 425.17 L443.49 425.17 L443.99 425.16 L444.49 425.16 L444.99 425.15 L445.48 425.15 L445.98 425.14 L446.48 425.13 L446.98 425.13 L447.48 425.12 L447.97 425.11 L448.47 425.09 L448.97 425.08 L449.47 425.07 L449.96 425.05 L450.46 425.03 L450.96 425.01 L451.46 424.98 L451.95 424.95 L452.45 424.92 L452.95 424.89 L453.45 424.85 L453.94 424.8 L454.44 424.75 L454.94 424.69 L455.44 424.63 L455.94 424.55 L456.43 424.47 L456.93 424.38 L457.43 424.27 L457.93 424.15 L458.42 424.02 L458.92 423.86 L459.42 423.69 L459.92 423.5 L460.41 423.28 L460.91 423.03 L461.41 422.76 L461.91 422.44 L462.4 422.09 L462.9 421.69 L463.4 421.24 L463.9 420.73 L464.4 420.15 L464.89 419.51 L465.39 418.77 L465.89 417.95 L466.39 417.02 L466.88 415.97 L467.38 414.78 L467.88 413.44 L468.38 411.93 L468.87 410.23 L469.37 408.3 L469.87 406.14 L470.37 403.69 L470.87 400.92 L471.36 397.81 L471.86 394.29 L472.36 390.32 L472.86 385.84 L473.35 380.78 L473.85 375.08 L474.35 368.64 L474.85 361.38 L475.34 353.18 L475.84 343.93 L476.34 333.49 L476.84 321.71 L477.33 308.42 L477.83 293.42 L478.33 276.5 L478.83 257.4" fill="none" stroke="#ff0000" stroke-width="1.15"/>
<circle cx="655.3" cy="421.4" r="3" fill="#00ff00"/>
<circle cx="585.28" cy="421.4" r="3" fill="#00ff00"/>
<circle cx="519.48" cy="421.4" r="3" fill="#00ff00"/>
<circle cx="462.72" cy="421.4" r="3" fill="#00ff00"/>
<path d="M461.8 395 V413" stroke="#000" stroke-width="1.2" fill="none"/>
<path d="M461.8 416.7 l-2.2 -5.6 h4.4 z" fill="#000"/>
<text x="447.6" y="382.8" font-family='"Liberation Serif", serif' font-size="12" font-weight="normal" text-anchor="start" fill="#000" >g<tspan font-size="8.5" dy="-5.8">th</tspan><tspan font-size="8.5" dy="9.8" dx="-6.6">nl</tspan></text>
<path d="M518.6 395 V413" stroke="#000" stroke-width="1.2" fill="none"/>
<path d="M518.6 416.7 l-2.2 -5.6 h4.4 z" fill="#000"/>
<text x="512.8" y="383" font-family='"Liberation Serif", serif' font-size="12" font-weight="normal" text-anchor="start" fill="#000" >g<tspan font-size="8.5" dy="-5.8">th</tspan><tspan font-size="8.5" dy="9.8" dx="-6.6">nl</tspan></text>
<path d="M584.6 395 V413" stroke="#000" stroke-width="1.2" fill="none"/>
<path d="M584.6 416.7 l-2.2 -5.6 h4.4 z" fill="#000"/>
<text x="576.7" y="380.5" font-family='"Liberation Serif", serif' font-size="12" font-weight="normal" text-anchor="start" fill="#000" >g<tspan font-size="8.5" dy="-5.8">th</tspan><tspan font-size="8.5" dy="9.8" dx="-6.6">nl</tspan></text>
<path d="M654.6 395 V413" stroke="#000" stroke-width="1.2" fill="none"/>
<path d="M654.6 416.7 l-2.2 -5.6 h4.4 z" fill="#000"/>
<text x="645.1" y="382.8" font-family='"Liberation Serif", serif' font-size="12" font-weight="normal" text-anchor="start" fill="#000" >g<tspan font-size="8.5" dy="-5.8">th</tspan><tspan font-size="8.5" dy="9.8" dx="-6.6">nl</tspan></text>
<path d="M405.9 270.3 H415.9" stroke="#0000ff" stroke-width="1.1"/>
<text x="418.9" y="272.3" font-family='"Liberation Serif", serif' font-size="7.8" font-weight="bold" text-anchor="start" fill="#000" >α<tspan font-size="5.5" dy="-3.2">in</tspan><tspan dy="3.2">=10</tspan><tspan font-size="5.5" dy="-3.2">2</tspan><tspan dy="3.2"> ω</tspan><tspan font-size="5.5" dy="-3.2">1/2</tspan><tspan font-size="5.5" dy="5.8" dx="-6.2">m</tspan></text>
<path d="M405.9 287.8 H415.9" stroke="#000000" stroke-width="1.1"/>
<text x="418.9" y="289.8" font-family='"Liberation Serif", serif' font-size="7.8" font-weight="bold" text-anchor="start" fill="#000" >α<tspan font-size="5.5" dy="-3.2">in</tspan><tspan dy="3.2">=2.2x10</tspan><tspan font-size="5.5" dy="-3.2">2</tspan><tspan dy="3.2"> ω</tspan><tspan font-size="5.5" dy="-3.2">1/2</tspan><tspan font-size="5.5" dy="5.8" dx="-6.2">m</tspan></text>
<path d="M405.9 305.3 H415.9" stroke="#edb120" stroke-width="1.1"/>
<text x="418.9" y="307.3" font-family='"Liberation Serif", serif' font-size="7.8" font-weight="bold" text-anchor="start" fill="#000" >α<tspan font-size="5.5" dy="-3.2">in</tspan><tspan dy="3.2">=2.5x10</tspan><tspan font-size="5.5" dy="-3.2">2</tspan><tspan dy="3.2"> ω</tspan><tspan font-size="5.5" dy="-3.2">1/2</tspan><tspan font-size="5.5" dy="5.8" dx="-6.2">m</tspan></text>
<path d="M405.9 324.9 H415.9" stroke="#ff0000" stroke-width="1.1"/>
<text x="418.9" y="326.9" font-family='"Liberation Serif", serif' font-size="7.8" font-weight="bold" text-anchor="start" fill="#000" >α<tspan font-size="5.5" dy="-3.2">in</tspan><tspan dy="3.2">=3x10</tspan><tspan font-size="5.5" dy="-3.2">2</tspan><tspan dy="3.2"> ω</tspan><tspan font-size="5.5" dy="-3.2">1/2</tspan><tspan font-size="5.5" dy="5.8" dx="-6.2">m</tspan></text>
<rect x="665.8" y="256.9" width="11.7" height="14.8" fill="#000"/>
<text x="670.7" y="268.2" font-family='"Liberation Sans", sans-serif' font-size="11" font-weight="bold" text-anchor="middle" fill="#fff" >d</text>
</svg>
</body></html>
